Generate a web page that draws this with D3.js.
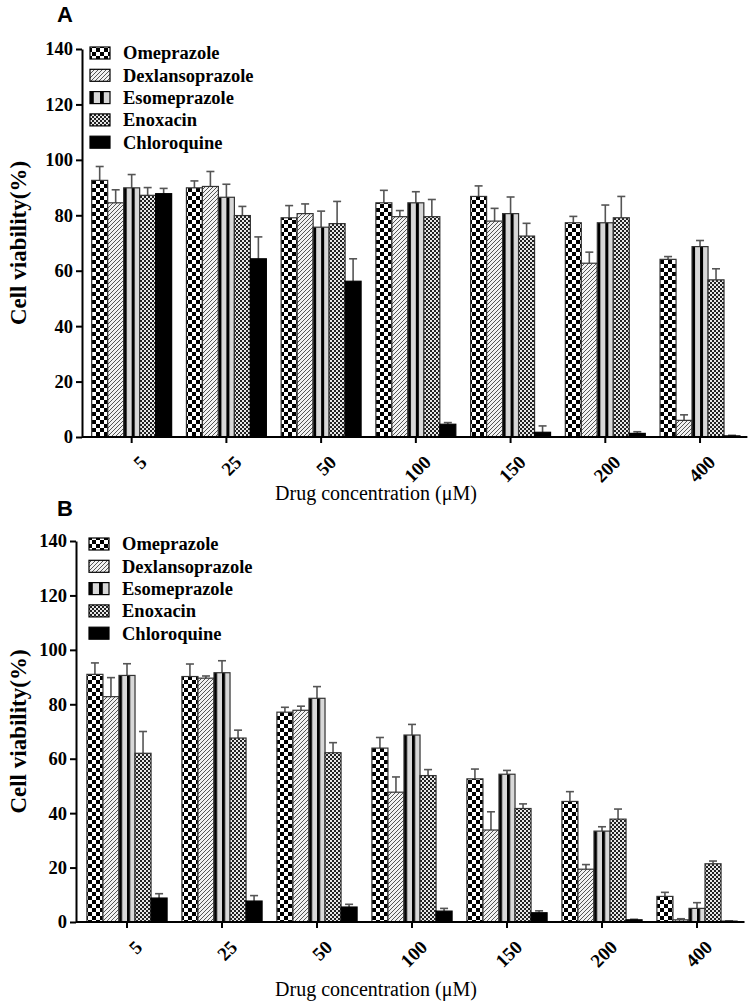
<!DOCTYPE html>
<html>
<head>
<meta charset="utf-8">
<script src="https://cdn.jsdelivr.net/npm/d3@7/dist/d3.min.js"></script>
<style>
  html, body { margin: 0; padding: 0; background: #fff; }
  svg { display: block; }
</style>
</head>
<body>
<svg id="chart" width="750" height="1004"></svg>
<script>
// ---------- DATA ----------
const categories = ["5", "25", "50", "100", "150", "200", "400"];
const seriesNames = ["Omeprazole", "Dexlansoprazole", "Esomeprazole", "Enoxacin", "Chloroquine"];
const yTicks = [0, 20, 40, 60, 80, 100, 120, 140];

// Panel A means and SD
const omepA = [92.6, 89.9, 79.1, 84.5, 86.8, 77.3, 64.1];
const omepAErr = [5.0, 2.5, 4.4, 4.5, 3.8, 2.3, 1.0];
const dexA = [84.5, 90.4, 80.6, 79.5, 77.9, 62.7, 6.0];
const dexAErr = [4.7, 5.4, 3.5, 2.2, 4.6, 4.0, 2.0];
const esoA = [89.9, 86.5, 75.7, 84.5, 80.6, 77.3, 68.7];
const esoAErr = [4.8, 4.7, 5.8, 4.0, 6.0, 6.4, 2.2];
const enoxA = [87.2, 79.9, 77.0, 79.5, 72.5, 79.1, 56.7];
const enoxAErr = [2.8, 3.3, 8.0, 6.2, 4.6, 7.7, 4.0];
const chloA = [87.8, 64.3, 56.2, 4.6, 1.7, 1.3, 0.4];
const chloAErr = [1.9, 7.9, 8.1, 0.6, 2.3, 0.6, 0.2];

// Panel B means and SD
const omepB = [91.0, 90.2, 77.1, 63.9, 52.6, 44.3, 9.4];
const omepBErr = [4.2, 4.6, 1.8, 3.9, 3.6, 3.6, 1.5];
const dexB = [82.8, 89.6, 77.8, 47.7, 33.8, 19.4, 0.8];
const dexBErr = [7.0, 0.8, 1.5, 5.6, 6.7, 1.7, 0.4];
const esoB = [90.6, 91.6, 82.2, 68.7, 54.3, 33.4, 5.0];
const esoBErr = [4.3, 4.4, 4.3, 3.9, 1.4, 1.6, 2.1];
const enoxB = [62.0, 67.6, 62.2, 53.8, 41.7, 37.8, 21.4];
const enoxBErr = [8.0, 2.9, 3.7, 2.2, 1.7, 3.7, 1.0];
const chloB = [8.8, 7.7, 5.5, 4.0, 3.4, 0.8, 0.3];
const chloBErr = [1.6, 2.0, 1.0, 1.0, 0.7, 0.2, 0.1];

const yTitle = "Cell viability(%)";
const xTitle = "Drug concentration (\u03bcM)";

// ---------- DRAW ----------
const svg = d3.select("#chart");
const defs = svg.append("defs");

// Omeprazole: coarse checkerboard
const pOm = defs.append("pattern").attr("id", "pOm").attr("patternUnits", "userSpaceOnUse")
  .attr("width", 8).attr("height", 8);
pOm.append("rect").attr("width", 8).attr("height", 8).attr("fill", "#fff");
pOm.append("rect").attr("width", 4).attr("height", 4).attr("fill", "#000");
pOm.append("rect").attr("x", 4).attr("y", 4).attr("width", 4).attr("height", 4).attr("fill", "#000");

// Dexlansoprazole: diagonal hatch
const pDx = defs.append("pattern").attr("id", "pDx").attr("patternUnits", "userSpaceOnUse")
  .attr("width", 4).attr("height", 4);
pDx.append("rect").attr("width", 4).attr("height", 4).attr("fill", "#f2f2f2");
pDx.append("path").attr("d", "M-1,1 L1,-1 M0,4 L4,0 M3,5 L5,3").attr("stroke", "#555").attr("stroke-width", 1);

// Esomeprazole: vertical stripes
const pEs = defs.append("pattern").attr("id", "pEs").attr("patternUnits", "objectBoundingBox")
  .attr("patternContentUnits", "objectBoundingBox").attr("width", 0.5).attr("height", 1);
pEs.append("rect").attr("width", 0.5).attr("height", 1).attr("fill", "#d8d8d8");
pEs.append("rect").attr("width", 0.19).attr("height", 1).attr("fill", "#000");

// Enoxacin: fine checkerboard
const pEn = defs.append("pattern").attr("id", "pEn").attr("patternUnits", "userSpaceOnUse")
  .attr("width", 4).attr("height", 4);
pEn.append("rect").attr("width", 4).attr("height", 4).attr("fill", "#e8e8e8");
pEn.append("rect").attr("width", 2).attr("height", 2).attr("fill", "#222");
pEn.append("rect").attr("x", 2).attr("y", 2).attr("width", 2).attr("height", 2).attr("fill", "#222");

const fills = ["url(#pOm)", "url(#pDx)", "url(#pEs)", "url(#pEn)", "#000"];
const serif = "'Liberation Serif', 'Times New Roman', serif";

function drawPanel(cfg) {
  const g = svg.append("g");
  const means = cfg.means, errs = cfg.errs;
  const x = d3.scaleBand().domain(categories).range([cfg.x0, cfg.x1])
    .paddingInner(0.156).paddingOuter(0.078);
  const xi = d3.scaleBand().domain(seriesNames).range([0, x.bandwidth()]);
  const y = d3.scaleLinear().domain([0, 140]).range([cfg.yBot, cfg.yTop]);

  // bars
  seriesNames.forEach((s, si) => {
    const gs = g.append("g");
    gs.selectAll("line.err").data(categories).join("line")
      .attr("x1", (c) => x(c) + xi(s) + xi.bandwidth() / 2)
      .attr("x2", (c) => x(c) + xi(s) + xi.bandwidth() / 2)
      .attr("y1", (c, i) => y(means[si][i]))
      .attr("y2", (c, i) => y(means[si][i] + errs[si][i]))
      .attr("stroke", "#555").attr("stroke-width", 1.6);
    gs.selectAll("line.cap").data(categories).join("line")
      .attr("x1", (c) => x(c) + xi(s) + xi.bandwidth() / 2 - 4)
      .attr("x2", (c) => x(c) + xi(s) + xi.bandwidth() / 2 + 4)
      .attr("y1", (c, i) => y(means[si][i] + errs[si][i]))
      .attr("y2", (c, i) => y(means[si][i] + errs[si][i]))
      .attr("stroke", "#555").attr("stroke-width", 1.6);
    gs.selectAll("rect").data(categories).join("rect")
      .attr("x", (c) => x(c) + xi(s))
      .attr("width", xi.bandwidth())
      .attr("y", (c, i) => y(means[si][i]))
      .attr("height", (c, i) => y(0) - y(means[si][i]))
      .attr("fill", fills[si])
      .attr("stroke", si === 4 ? "#000" : "#333").attr("stroke-width", 1.2);
  });

  // y axis
  const yAxis = d3.axisLeft(y).tickValues(yTicks).tickSize(6).tickSizeOuter(0).tickPadding(3);
  const ga = g.append("g").attr("transform", `translate(${cfg.axisX},0)`).call(yAxis);
  ga.select(".domain").attr("stroke", "#000").attr("stroke-width", 2);
  ga.selectAll(".tick line").attr("stroke", "#000").attr("stroke-width", 2);
  ga.selectAll(".tick text").attr("font-family", serif).attr("font-weight", "bold")
    .attr("font-size", 18.5).attr("fill", "#000");

  // x axis
  const xAxis = d3.axisBottom(x).tickSize(6).tickSizeOuter(0).tickFormat(() => "");
  const gx = g.append("g").attr("transform", `translate(0,${cfg.yBot})`).call(xAxis);
  gx.select(".domain").attr("d", `M${cfg.axisX},0H${cfg.x1}`).attr("stroke", "#000").attr("stroke-width", 2);
  gx.selectAll(".tick line").attr("stroke", "#000").attr("stroke-width", 2);
  gx.selectAll(".tick").append("text")
    .attr("text-anchor", "end")
    .attr("transform", "translate(7,17) rotate(-45)")
    .attr("dy", "0.7em")
    .attr("font-family", serif).attr("font-weight", "bold").attr("font-size", 19)
    .attr("fill", "#000")
    .text((d) => d);

  // legend
  const lg = g.append("g");
  seriesNames.forEach((s, si) => {
    const cy = cfg.legY + si * 22.3;
    lg.append("rect").attr("x", cfg.legX).attr("y", cy - 6).attr("width", 20).attr("height", 12)
      .attr("fill", fills[si]).attr("stroke", "#000").attr("stroke-width", 1.2);
    lg.append("text").attr("x", cfg.legX + 33).attr("y", cy).attr("dy", "0.35em")
      .attr("font-family", serif).attr("font-weight", "bold").attr("font-size", 18.5)
      .attr("fill", "#000").text(s);
  });

  // titles
  g.append("text").attr("x", cfg.letterX).attr("y", cfg.letterY)
    .attr("font-family", "'Liberation Sans', Arial, sans-serif").attr("font-weight", "bold")
    .attr("font-size", 22).attr("fill", "#000").text(cfg.letter);
  g.append("text").attr("transform", `translate(26,${(cfg.yTop + cfg.yBot) / 2}) rotate(-90)`)
    .attr("text-anchor", "middle")
    .attr("font-family", serif).attr("font-weight", "bold").attr("font-size", 23)
    .attr("fill", "#000").text(yTitle);
  g.append("text").attr("x", 376).attr("y", cfg.xTitleY).attr("text-anchor", "middle")
    .attr("font-family", serif).attr("font-size", 20)
    .attr("fill", "#000").text(xTitle);
}

drawPanel({
  means: [omepA, dexA, esoA, enoxA, chloA],
  errs: [omepAErr, dexAErr, esoAErr, enoxAErr, chloAErr],
  x0: 84.3, x1: 747.4, axisX: 82, yTop: 49, yBot: 437,
  legX: 90, legY: 53, letter: "A", letterX: 57, letterY: 22, xTitleY: 500
});
drawPanel({
  means: [omepB, dexB, esoB, enoxB, chloB],
  errs: [omepBErr, dexBErr, esoBErr, enoxBErr, chloBErr],
  x0: 79.5, x1: 744.5, axisX: 76, yTop: 541, yBot: 922,
  legX: 89, legY: 544, letter: "B", letterX: 57, letterY: 516, xTitleY: 996
});
</script>
</body>
</html>
